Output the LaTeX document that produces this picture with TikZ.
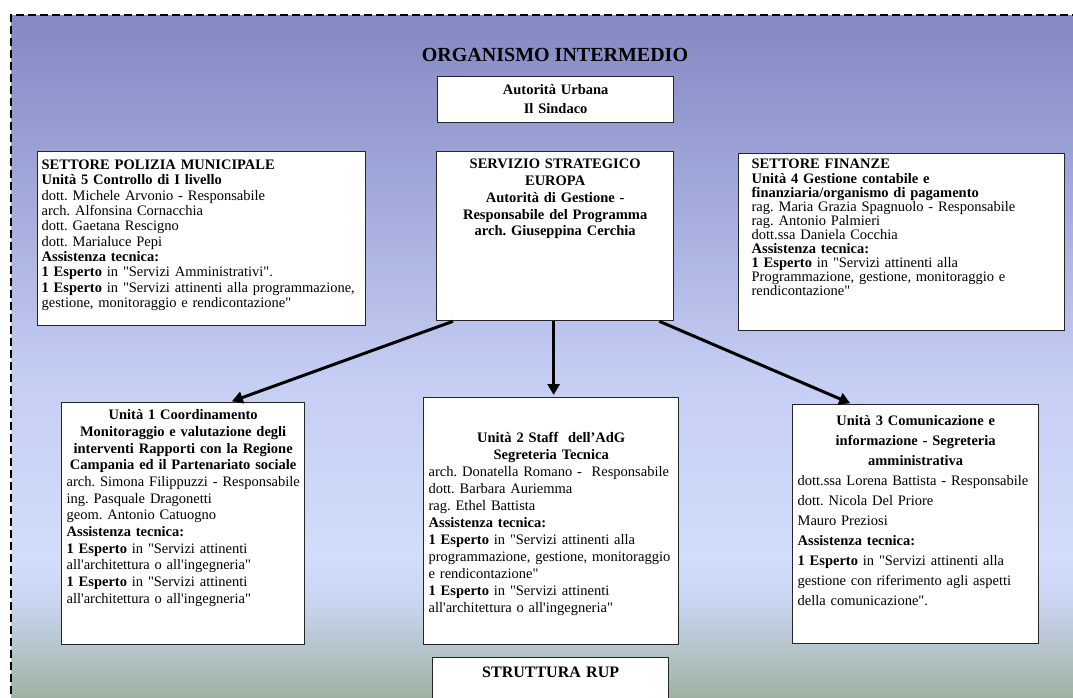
\documentclass[tikz,border=0pt]{standalone}
\usepackage{fontspec}
\setmainfont{Liberation Serif}
\usepackage{tikz}
\usetikzlibrary{arrows.meta}
\definecolor{bg0}{HTML}{8488C3}
\definecolor{bg1}{HTML}{A0A7D9}
\definecolor{bg2}{HTML}{C5CEF3}
\definecolor{bg3}{HTML}{D2DDFB}
\definecolor{bg4}{HTML}{C9D5F0}
\definecolor{bg5}{HTML}{B4C4CA}
\definecolor{bg6}{HTML}{98AD98}
\newcommand{\ap}{\textquotesingle}
\newcommand{\qd}{\textquotedbl}
\frenchspacing
\hyphenpenalty=10000

\begin{document}
\begin{tikzpicture}[x=1pt,y=-1pt,>={Triangle[length=11pt,width=12pt]},
  box/.style={draw=black!85,line width=1.3pt,fill=white,anchor=north west,inner ysep=0pt,inner xsep=5pt},
  unit/.style={draw=black,line width=3pt,->,shorten >=2pt}]
  \useasboundingbox (0,0) rectangle (1073,697);

  \fill[white] (0,0) rectangle (1073,697);
  \foreach \ya/\yb/\ca/\cb in {15/180/bg0/bg1,180/380/bg1/bg2,380/560/bg2/bg3,
    560/600/bg3/bg4,600/650/bg4/bg5,650/710/bg5/bg6}
    \shade[top color=\ca,bottom color=\cb] (11,\ya) rectangle (1080,\yb+1);
  \draw[line width=2pt,dash pattern=on 8pt off 4pt] (1080,15) -- (11,15) -- (11,710);

  \node[font=\fontsize{20}{24}\selectfont\bfseries,anchor=base] (org) at (555,61) {ORGANISMO INTERMEDIO};
  \node[box,text width=226pt,text height=18pt,text depth=28pt,align=center,
    font=\fontsize{14.5}{19.3}\selectfont\bfseries] (au) at (437,76) {Autorità Urbana\\Il Sindaco};

  \node[box,text width=320pt,inner xsep=4pt,text height=18pt,text depth=156pt,align=left,
    font=\fontsize{14.5}{15.3}\selectfont] (5) at (37,151) {%
    \textbf{SETTORE POLIZIA MUNICIPALE}\\
    \textbf{Unità 5 Controllo di I livello}\\
    dott. Michele Arvonio - Responsabile\\
    arch. Alfonsina Cornacchia\\
    dott. Gaetana Rescigno\\
    dott. Marialuce Pepi\\
    \textbf{Assistenza tecnica:}\\
    \textbf{1 Esperto} in \qd Servizi Amministrativi\qd.\\
    \textbf{1 Esperto} in \qd Servizi attinenti alla programmazione,\\
    gestione, monitoraggio e rendicontazione\qd};
  \node[box,text width=227pt,text height=17.3pt,text depth=151.7pt,align=center,
    font=\fontsize{14.5}{16.7}\selectfont\bfseries] (ss) at (436,151) {%
    SERVIZIO STRATEGICO\\EUROPA\\Autorità di Gestione -\\Responsabile del Programma\\arch. Giuseppina Cerchia};
  \node[box,text width=300pt,inner xsep=13pt,text height=15.3pt,text depth=161.7pt,align=left,
    font=\fontsize{14.5}{14.1}\selectfont] (4) at (738,153) {%
    \textbf{SETTORE FINANZE}\\
    \textbf{Unità 4 Gestione contabile e}\\
    \textbf{finanziaria/organismo di pagamento}\\
    rag. Maria Grazia Spagnuolo - Responsabile\\
    rag. Antonio Palmieri\\
    dott.ssa Daniela Cocchia\\
    \textbf{Assistenza tecnica:}\\
    \textbf{1 Esperto} in \qd Servizi attinenti alla\\
    Programmazione, gestione, monitoraggio e\\
    rendicontazione\qd};

  \node[box,text width=233pt,text height=17pt,text depth=225pt,align=left,
    font=\fontsize{14.5}{16.7}\selectfont] (1) at (61,402) {%
    \centerline{\bfseries Unità 1 Coordinamento}
    \centerline{\bfseries Monitoraggio e valutazione degli}
    \centerline{\bfseries interventi Rapporti con la Regione}
    \centerline{\bfseries Campania ed il Partenariato sociale}
    \mbox{arch. Simona Filippuzzi - Responsabile}\\
    ing. Pasquale Dragonetti\\
    geom. Antonio Catuogno\\
    \textbf{Assistenza tecnica:}\\
    \textbf{1 Esperto} in \qd Servizi attinenti\\
    all\ap architettura o all\ap ingegneria\qd\\
    \textbf{1 Esperto} in \qd Servizi attinenti\\
    all\ap architettura o all\ap ingegneria\qd};
  \node[box,text width=245pt,text height=44.7pt,text depth=202.3pt,align=left,
    font=\fontsize{14.5}{17}\selectfont] (2) at (423,397) {%
    \centerline{\bfseries Unità 2 Staff\ \ dell’AdG}
    \centerline{\bfseries Segreteria Tecnica}
    \mbox{arch. Donatella Romano -\ \ Responsabile}\\
    dott. Barbara Auriemma\\
    rag. Ethel Battista\\
    \textbf{Assistenza tecnica:}\\
    \textbf{1 Esperto} in \qd Servizi attinenti alla\\
    programmazione, gestione, monitoraggio\\
    e rendicontazione\qd\\
    \textbf{1 Esperto} in \qd Servizi attinenti\\
    all\ap architettura o all\ap ingegneria\qd};
  \node[box,text width=236pt,text height=21pt,text depth=218pt,align=left,
    font=\fontsize{14.5}{20}\selectfont] (3) at (792,404) {%
    \centerline{\bfseries Unità 3 Comunicazione e}
    \centerline{\bfseries informazione - Segreteria}
    \centerline{\bfseries amministrativa}
    dott.ssa Lorena Battista - Responsabile\\
    dott. Nicola Del Priore\\
    Mauro Preziosi\\
    \textbf{Assistenza tecnica:}\\
    \textbf{1 Esperto} in \qd Servizi attinenti alla\\
    gestione con riferimento agli aspetti\\
    della comunicazione\qd.};
  \node[box,text width=226pt,text height=20pt,text depth=40pt,align=center,
    font=\fontsize{16}{19}\selectfont\bfseries] (rup) at (432,657) {STRUTTURA RUP};

  \path ([xshift=17pt]ss.south west) edge[unit] ([xshift=169pt]1.north west)
    ([xshift=-1.5pt]ss.south) edge[unit] ([xshift=-1.5pt]ss.south |- 2.north)
    ([xshift=-15pt]ss.south east) edge[unit] ([xshift=60pt]3.north west);
\end{tikzpicture}
\end{document}
